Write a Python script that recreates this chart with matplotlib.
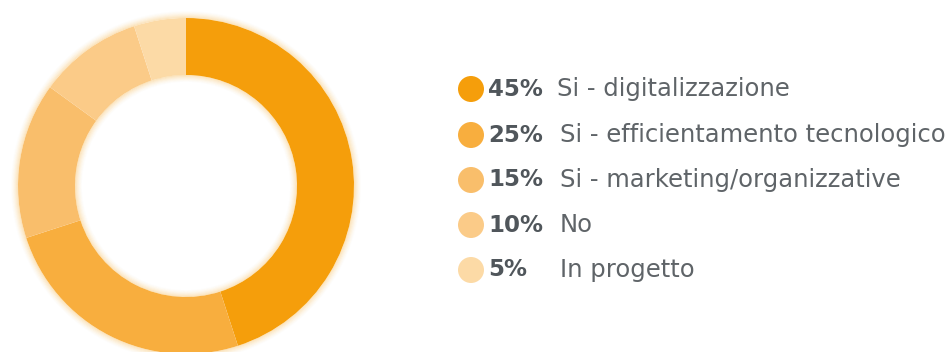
import numpy as np
import matplotlib
matplotlib.use('Agg')
import matplotlib.pyplot as plt
from matplotlib.patches import Circle, Wedge

# share of answers
pcts = [45, 25, 15, 10, 5]
labels = ['Si - digitalizzazione', 'Si - efficientamento tecnologico',
          'Si - marketing/organizzative', 'No', 'In progetto']
colors = ['#F59E0B', '#F8AE3E', '#F9BE6B', '#FBCB88', '#FCDAA6']

W, H = 947, 352
fig = plt.figure(figsize=(W / 100, H / 100), dpi=100)
ax = fig.add_axes([0, 0, 1, 1])

cx, cy = 186, H - 186
r_out, r_in = 168, 111

# soft orange halo on both edges of the ring
n = 7
for k in range(n):
    a = 0.30 * (1 - k / n) ** 1.5
    ax.add_patch(Wedge((cx, cy), r_out + k + 1, 0, 360, width=1.0,
                       facecolor='#F5A623', edgecolor='none', alpha=a, zorder=1))
    ax.add_patch(Wedge((cx, cy), r_in - k, 0, 360, width=1.0,
                       facecolor='#F5A623', edgecolor='none', alpha=a, zorder=3))

wedges, _ = ax.pie(pcts, colors=colors, startangle=90, counterclock=False,
                   center=(cx, cy), radius=r_out, frame=True,
                   wedgeprops=dict(width=r_out - r_in, edgecolor='none'))
for w in wedges:
    w.set_zorder(2)
ax.set_xlim(0, W)
ax.set_ylim(0, H)
ax.set_aspect('equal')
ax.axis('off')

font = 'DejaVu Sans'
row_y = [89, 135, 180, 225, 270]
for i, (p, lab, c) in enumerate(zip(pcts, labels, colors)):
    y = H - row_y[i]
    ax.add_patch(Circle((471, y), 13, facecolor=c, edgecolor='none', zorder=4))
    ax.text(488, y, f'{p}%', fontsize=16.5, fontweight='bold', color='#50565b',
            family=font, va='center', ha='left', zorder=5)
    ax.text(557 if i == 0 else 560, y, lab, fontsize=17.5, color='#5f6468',
            family=font, va='center', ha='left', zorder=5)

fig.savefig('out.png', dpi=100, facecolor='white')
